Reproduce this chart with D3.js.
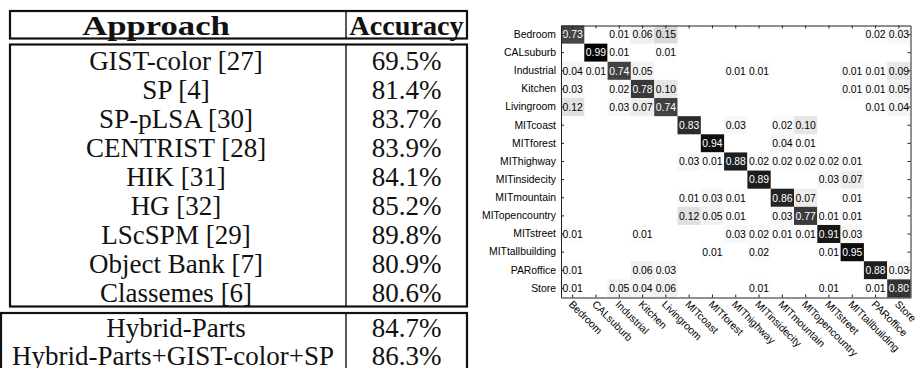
<!DOCTYPE html>
<html>
<head>
<meta charset="utf-8">
<script src="https://cdn.jsdelivr.net/npm/d3@7"></script>
<style>
  html, body { margin: 0; padding: 0; background: #fff; }
  svg { display: block; }
</style>
</head>
<body>
<div id="chart"></div>
<script>
// ---------------------------------------------------------------------------
// Accuracy table + confusion matrix
// ---------------------------------------------------------------------------

const approaches = ['GIST-color [27]', 'SP [4]', 'SP-pLSA [30]', 'CENTRIST [28]', 'HIK [31]',
  'HG [32]', 'LScSPM [29]', 'Object Bank [7]', 'Classemes [6]'];
const accuracies = [69.5, 81.4, 83.7, 83.9, 84.1, 85.2, 89.8, 80.9, 80.6];
const hybridApproaches = ['Hybrid-Parts', 'Hybrid-Parts+GIST-color+SP'];
const hybridAccuracies = [84.7, 86.3];

const classes = ['Bedroom', 'CALsuburb', 'Industrial', 'Kitchen', 'Livingroom', 'MITcoast',
  'MITforest', 'MIThighway', 'MITinsidecity', 'MITmountain', 'MITopencountry', 'MITstreet',
  'MITtallbuilding', 'PARoffice', 'Store'];

// rows = true class, cols = predicted class
const confusion = [
  [0.73, 0, 0.01, 0.06, 0.15, 0, 0, 0, 0, 0, 0, 0, 0, 0.02, 0.03],
  [0, 0.99, 0.01, 0, 0.01, 0, 0, 0, 0, 0, 0, 0, 0, 0, 0],
  [0.04, 0.01, 0.74, 0.05, 0, 0, 0, 0.01, 0.01, 0, 0, 0, 0.01, 0.01, 0.09],
  [0.03, 0, 0.02, 0.78, 0.10, 0, 0, 0, 0, 0, 0, 0, 0.01, 0.01, 0.05],
  [0.12, 0, 0.03, 0.07, 0.74, 0, 0, 0, 0, 0, 0, 0, 0, 0.01, 0.04],
  [0, 0, 0, 0, 0, 0.83, 0, 0.03, 0, 0.02, 0.10, 0, 0, 0, 0],
  [0, 0, 0, 0, 0, 0, 0.94, 0, 0, 0.04, 0.01, 0, 0, 0, 0],
  [0, 0, 0, 0, 0, 0.03, 0.01, 0.88, 0.02, 0.02, 0.02, 0.02, 0.01, 0, 0],
  [0, 0, 0, 0, 0, 0, 0, 0, 0.89, 0, 0, 0.03, 0.07, 0, 0],
  [0, 0, 0, 0, 0, 0.01, 0.03, 0.01, 0, 0.86, 0.07, 0, 0.01, 0, 0],
  [0, 0, 0, 0, 0, 0.12, 0.05, 0.01, 0, 0.03, 0.77, 0.01, 0.01, 0, 0],
  [0.01, 0, 0, 0.01, 0, 0, 0, 0.03, 0.02, 0.01, 0.01, 0.91, 0.03, 0, 0],
  [0, 0, 0, 0, 0, 0, 0.01, 0, 0.02, 0, 0, 0.01, 0.95, 0, 0],
  [0.01, 0, 0, 0.06, 0.03, 0, 0, 0, 0, 0, 0, 0, 0, 0.88, 0.03],
  [0.01, 0, 0.05, 0.04, 0.06, 0, 0, 0, 0.01, 0, 0, 0.01, 0, 0.01, 0.80],
];

const width = 916;
const height = 368;

const svg = d3.select('#chart')
  .append('svg')
  .attr('width', width)
  .attr('height', height)
  .attr('viewBox', `0 0 ${width} ${height}`);

// ---------------------------------------------------------------------------
// Table
// ---------------------------------------------------------------------------
const serif = '"Liberation Serif", "Times New Roman", serif';
const tbl = svg.append('g').style('font-family', serif).style('fill', '#111');

const colL = 10, colMid = 346, colR = 467;
const lineW = 2.2;

const box = (x0, y0, x1, y1) => {
  tbl.append('rect')
    .attr('x', x0).attr('y', y0)
    .attr('width', x1 - x0).attr('height', y1 - y0)
    .attr('fill', 'none')
    .attr('stroke', '#111')
    .attr('stroke-width', lineW);
  tbl.append('line')
    .attr('x1', colMid).attr('x2', colMid)
    .attr('y1', y0).attr('y2', y1)
    .attr('stroke', '#111')
    .attr('stroke-width', 1.4);
};

box(colL, 11, colR, 38.5);
box(colL, 44.5, colR, 306.5);
box(1, 313, colR, 372);

const c1 = 176;
const c2 = (colMid + colR) / 2;

const rowY = d3.scaleLinear().domain([0, approaches.length - 1]).range([60, 292]);

tbl.selectAll('text.appr')
  .data(approaches)
  .join('text')
  .attr('class', 'appr')
  .attr('x', c1)
  .attr('y', (d, i) => rowY(i))
  .attr('dy', '0.36em')
  .attr('text-anchor', 'middle')
  .style('font-size', '27px')
  .text((d) => d);

const accText = tbl.selectAll('text.acc')
  .data(accuracies)
  .join('text')
  .attr('class', 'acc')
  .attr('x', c2)
  .attr('y', (d, i) => rowY(i))
  .attr('dy', '0.36em')
  .attr('text-anchor', 'middle')
  .style('font-size', '27px')
  .text((d) => `${d.toFixed(1)}%`);

const hybY = d3.scaleLinear().domain([0, 1]).range([328, 356]);

tbl.selectAll('text.happr')
  .data(hybridApproaches)
  .join('text')
  .attr('class', 'happr')
  .attr('x', (d, i) => (i === 0 ? c1 : 173))
  .attr('y', (d, i) => hybY(i))
  .attr('dy', '0.34em')
  .attr('text-anchor', 'middle')
  .style('font-size', '27px')
  .text((d) => d);

tbl.selectAll('text.hacc')
  .data(hybridAccuracies)
  .join('text')
  .attr('class', 'hacc')
  .attr('x', c2)
  .attr('y', (d, i) => hybY(i))
  .attr('dy', '0.34em')
  .attr('text-anchor', 'middle')
  .style('font-size', '27px')
  .text((d) => `${d.toFixed(1)}%`);

// header: wide bold face, stretched to the widths seen in the reference
const gistW = tbl.select('text.appr').node().getComputedTextLength();
const accW = accText.node().getComputedTextLength();

tbl.append('text').attr('x', 156).attr('y', 25).attr('dy', '0.36em')
  .attr('text-anchor', 'middle').style('font-size', '27px').style('font-weight', 'bold')
  .attr('textLength', gistW * 0.85).attr('lengthAdjust', 'spacingAndGlyphs')
  .text('Approach');
tbl.append('text').attr('x', c2).attr('y', 25).attr('dy', '0.36em')
  .attr('text-anchor', 'middle').style('font-size', '27px').style('font-weight', 'bold')
  .attr('textLength', accW * 1.64).attr('lengthAdjust', 'spacingAndGlyphs')
  .text('Accuracy');

// ---------------------------------------------------------------------------
// Confusion matrix
// ---------------------------------------------------------------------------
const sans = '"Liberation Sans", Arial, sans-serif';
const m = { left: 561, right: 910.5, top: 25.5, bottom: 297.5 };

const x = d3.scaleBand().domain(classes).range([m.left, m.right]);
const y = d3.scaleBand().domain(classes).range([m.top, m.bottom]);
const gray = d3.scaleLinear().domain([0, 1]).range(['#ffffff', '#000000']);

const cells = confusion.flatMap((row, i) =>
  row.map((v, j) => ({ r: classes[i], c: classes[j], v })));

const mg = svg.append('g').style('font-family', sans);

mg.selectAll('rect.cell')
  .data(cells.filter((d) => d.v > 0))
  .join('rect')
  .attr('class', 'cell')
  .attr('x', (d) => x(d.c))
  .attr('y', (d) => y(d.r))
  .attr('width', x.bandwidth())
  .attr('height', y.bandwidth())
  .attr('fill', (d) => gray(d.v));

mg.selectAll('text.val')
  .data(cells.filter((d) => d.v > 0))
  .join('text')
  .attr('class', 'val')
  .attr('x', (d) => x(d.c) + x.bandwidth() / 2)
  .attr('y', (d) => y(d.r) + y.bandwidth() / 2)
  .attr('dy', '0.36em')
  .attr('text-anchor', 'middle')
  .style('font-size', '10.4px')
  .style('fill', (d) => (d.v > 0.5 ? '#fff' : '#000'))
  .text((d) => d.v.toFixed(2));

// axes: inward ticks on all four sides, box frame
const tick = 3;
const axStyle = (g) => {
  g.select('.domain').attr('stroke', '#222');
  g.selectAll('.tick line').attr('stroke', '#222');
  g.selectAll('.tick text').style('font-family', sans).style('font-size', '10.4px').style('fill', '#000');
};

mg.append('g')
  .attr('transform', `translate(${m.left},0)`)
  .call(d3.axisLeft(y).tickSize(-tick).tickSizeOuter(0).tickPadding(2 + tick))
  .call(axStyle);

mg.append('g')
  .attr('transform', `translate(${m.right},0)`)
  .call(d3.axisRight(y).tickSize(-tick).tickSizeOuter(0).tickFormat(''))
  .call(axStyle);

mg.append('g')
  .attr('transform', `translate(0,${m.top})`)
  .call(d3.axisTop(x).tickSize(-tick).tickSizeOuter(0).tickFormat(''))
  .call(axStyle);

const bottom = mg.append('g')
  .attr('transform', `translate(0,${m.bottom})`)
  .call(d3.axisBottom(x).tickSize(-tick).tickSizeOuter(0))
  .call(axStyle);

// rotated x labels
bottom.selectAll('.tick text')
  .attr('text-anchor', 'start')
  .attr('x', 0)
  .attr('y', 0)
  .attr('dy', null)
  .attr('transform', 'translate(-4.5,7.5) rotate(45)');
</script>
</body>
</html>
